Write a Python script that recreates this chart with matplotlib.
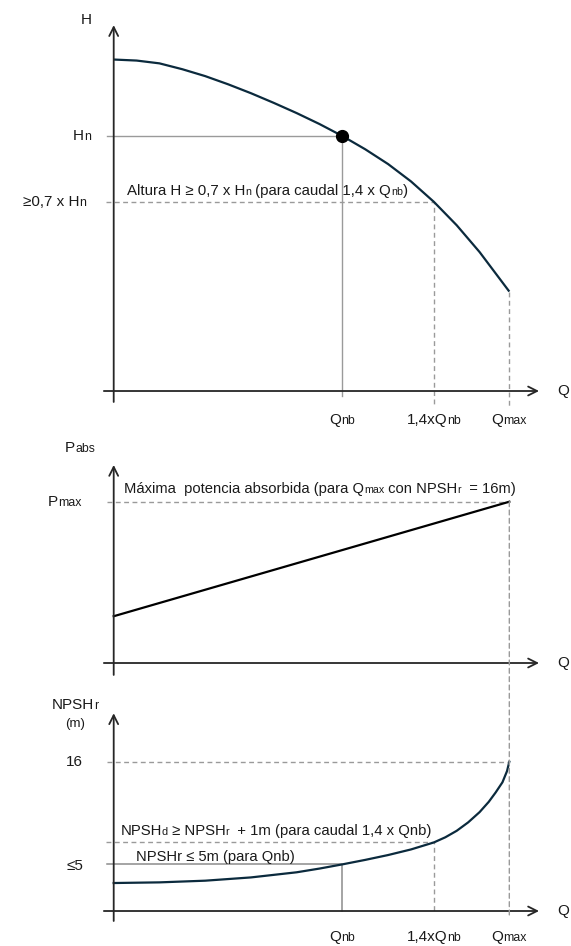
import re
import numpy as np
import matplotlib.pyplot as plt
from matplotlib.patches import ConnectionPatch
from matplotlib.offsetbox import TextArea, HPacker, AnnotationBbox

plt.rcParams['font.family'] = ['Liberation Sans', 'DejaVu Sans']

"""
Valores leidos de la figura (Q en unidades de Qnb)
"""
q_nb = 1.0
q_14 = 1.4
q_max = 1.73

# curva H-Q (H en unidades de Hn)
q_H = [0, 0.1, 0.2, 0.3, 0.4, 0.5, 0.6, 0.7, 0.8, 0.9, 1.0, 1.1, 1.2, 1.3,
       1.4, 1.5, 1.6, 1.73]
H = [1.300, 1.296, 1.285, 1.262, 1.235, 1.203, 1.168, 1.130, 1.090, 1.047,
     1.0, 0.948, 0.890, 0.822, 0.742, 0.650, 0.545, 0.39]
H_n = 1.0
H_07 = 0.742

# potencia absorbida (en unidades de Pmax)
q_P = [0, 1.73]
P = [0.29, 1.0]
P_max = 1.0

# NPSHr (m)
q_N = [0, 0.2, 0.4, 0.6, 0.8, 0.9, 1.0, 1.1, 1.2, 1.3, 1.4, 1.45, 1.5, 1.55,
       1.6, 1.64, 1.67, 1.70, 1.72, 1.73]
N = [3.0, 3.07, 3.25, 3.6, 4.15, 4.55, 5.0, 5.48, 6.0, 6.6, 7.35, 7.9, 8.6,
     9.5, 10.6, 11.7, 12.7, 13.8, 15.0, 16.0]
N_max = 16
N_nb = 5
N_d = 7.35

x_ticks = [q_nb, q_14, q_max]
x_labels = ['Q_{nb}', '1,4xQ_{nb}', 'Q_{max}']

c_curve = '#0b2a3d'
c_axis = '#262626'
c_grey = '#9a9a9a'
c_text = '#1a1a1a'
dash = (0, (3.5, 2.5))

fig = plt.figure(figsize=(5.71, 9.46), dpi=100)
xl = (-0.06, 2.0)
ax1 = fig.add_axes([0.1751, 0.5705, 0.825, 0.4043])
ax2 = fig.add_axes([0.1751, 0.2821, 0.825, 0.2387])
ax3 = fig.add_axes([0.1751, 0.0222, 0.825, 0.2268])
ax1.set_ylim(-0.06, 1.44)
ax2.set_ylim(-0.1, 1.3)
ax3.set_ylim(-1.5, 21.5)


def rich(ax, x, y, s, size=11, sub=0.8, align=(0.5, 0.5)):
    # texto con "subindices" pequenos sobre la linea base, como en el original
    kids = []
    for i, part in enumerate(re.split(r'_\{(.*?)\}', s)):
        if part:
            fs = size*sub if i % 2 else size
            kids.append(TextArea(part, textprops=dict(fontsize=fs,
                                                      color=c_text)))
    box = HPacker(children=kids, align='baseline', pad=0, sep=0)
    ab = AnnotationBbox(box, (x, y), xycoords='data', box_alignment=align,
                        frameon=False, pad=0, annotation_clip=False)
    ax.add_artist(ab)


def axes_arrows(ax, ytop, ybot):
    ax.set_xlim(*xl)
    ax.axis('off')
    ax.annotate('', xy=(0, ytop), xytext=(0, ybot),
                arrowprops=dict(arrowstyle='->', lw=1.3, color=c_axis,
                                mutation_scale=16, shrinkA=0, shrinkB=0))
    ax.annotate('', xy=(1.86, 0), xytext=(-0.043, 0),
                arrowprops=dict(arrowstyle='->', lw=1.3, color=c_axis,
                                mutation_scale=16, shrinkA=0, shrinkB=0))
    rich(ax, 1.965, 0, 'Q')


def xlabels(ax, y):
    for q, s in zip(x_ticks, x_labels):
        rich(ax, q, y, s)


# ---- H ----
axes_arrows(ax1, 1.435, -0.043)
ax1.plot([-0.03, q_nb], [H_n, H_n], color=c_grey, lw=1.0)
ax1.plot([q_nb, q_nb], [H_n, -0.02], color=c_grey, lw=1.0)
ax1.plot([-0.035, q_14, q_14], [H_07, H_07, -0.055], color=c_grey, lw=1.0,
         ls=dash)
ax1.plot([q_max, q_max], [H[-1], -0.06], color=c_grey, lw=1.0, ls=dash)
ax1.plot(q_H, H, color=c_curve, lw=1.6, solid_capstyle='butt')
ax1.plot(q_nb, H_n, 'o', color='black', ms=8.5)
rich(ax1, -0.122, 1.455, 'H')
rich(ax1, -0.099, H_n, 'H_{n}', align=(1, 0.5))
rich(ax1, -0.12, H_07, '≥0,7 x H_{n}', align=(1, 0.5))
rich(ax1, 0.057, 0.785, 'Altura H ≥ 0,7 x H_{n} (para caudal 1,4 x Q_{nb})',
     size=10.8, sub=0.72, align=(0, 0.5))
xlabels(ax1, -0.114)

# ---- P ----
axes_arrows(ax2, 1.228, -0.074)
ax2.plot([-0.03, q_max], [P_max, P_max], color=c_grey, lw=1.0, ls=dash)
ax2.plot(q_P, P, color='black', lw=1.6)
rich(ax2, -0.147, 1.335, 'P_{abs}')
rich(ax2, -0.213, P_max, 'P_{max}')
rich(ax2, 0.045, 1.08, 'Máxima  potencia absorbida (para Q_{max} con '
     'NPSH_{r}  = 16m)', size=10.6, sub=0.72, align=(0, 0.5))

# ---- NPSHr ----
axes_arrows(ax3, 21.2, -1.07)
ax3.plot([-0.03, q_max], [N_max, N_max], color=c_grey, lw=1.0, ls=dash)
ax3.plot([-0.035, q_14, q_14], [N_d, N_d, -0.2], color=c_grey, lw=1.0,
         ls=dash)
ax3.plot([-0.03, q_nb, q_nb], [N_nb, N_nb, 0], color='#8c8c8c', lw=1.1)
ax3.plot(q_N, N, color=c_curve, lw=1.6)
rich(ax3, -0.17, 22.1, 'NPSH_{r}')
rich(ax3, -0.17, 20.0, '(m)', size=9.5)
rich(ax3, -0.17, N_max, '16')
rich(ax3, -0.17, N_nb - 0.2, '≤5')
rich(ax3, 0.029, 8.57, 'NPSH_{d} ≥ NPSH_{r}  + 1m (para caudal 1,4 x Qnb)',
     size=10.7, sub=0.72, align=(0, 0.5))
rich(ax3, 0.096, 5.82, 'NPSHr ≤ 5m (para Qnb)', size=10.6, align=(0, 0.5))
xlabels(ax3, -2.8)

# linea discontinua de Qmax que cruza los dos paneles inferiores
con = ConnectionPatch(xyA=(q_max, P_max), coordsA=ax2.transData,
                      xyB=(q_max, -0.6), coordsB=ax3.transData,
                      color=c_grey, lw=1.0, ls=dash)
fig.add_artist(con)

fig.savefig('out.png', dpi=100)
